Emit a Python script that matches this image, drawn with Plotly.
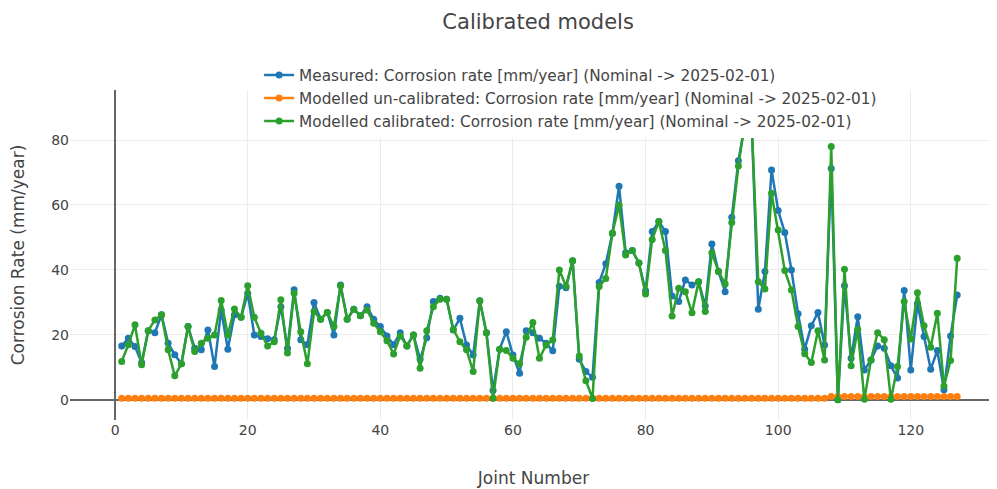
import plotly.graph_objects as go

joints = list(range(1, 128))

measured = [16.6, 19.0, 16.4, 11.5, 21.3, 20.7, 26.2, 17.4, 13.9, 11.1,
            22.6, 15.9, 15.4, 21.5, 10.3, 27.7, 15.6, 26.2, 25.4, 32.8,
            20.0, 19.5, 18.8, 18.5, 28.7, 15.9, 33.9, 18.5, 17.0, 30.0,
            24.8, 26.9, 20.0, 35.4, 24.8, 27.9, 25.9, 28.7, 24.8, 22.6,
            19.7, 17.0, 20.7, 16.6, 20.0, 12.5, 19.1, 30.3, 31.3, 31.0,
            21.5, 25.1, 16.9, 13.8, 30.5, 20.7, 2.9, 15.6, 21.0, 13.8,
            8.2, 21.3, 20.7, 19.0, 17.4, 15.1, 35.0, 34.5, 42.8, 12.5,
            8.7, 7.0, 36.1, 41.9, 51.3, 65.8, 45.3, 46.0, 42.1, 33.6,
            51.8, 54.9, 51.8, 32.0, 30.3, 36.9, 35.4, 36.4, 28.9, 48.0,
            39.5, 33.3, 56.2, 73.6, 85.0, 86.0, 27.9, 39.5, 70.8, 58.3,
            51.5, 40.0, 26.5, 15.6, 22.8, 26.9, 16.9, 71.2, 0.0, 35.1,
            12.8, 25.6, 9.2, 12.3, 16.6, 15.9, 10.5, 6.7, 33.7, 9.2,
            29.7, 19.5, 9.4, 15.2, 3.1, 19.7, 32.3]

uncalibrated = [0.5] * 107 + [1.0] * 20

calibrated = [11.8, 17.0, 23.1, 10.8, 21.3, 24.6, 26.2, 15.4, 7.4, 11.1,
              22.6, 14.9, 17.4, 19.0, 20.0, 30.6, 20.0, 28.0, 25.4, 35.1,
              25.4, 20.5, 16.6, 17.9, 30.8, 14.4, 32.8, 21.0, 11.1, 27.2,
              24.8, 26.9, 22.6, 35.1, 24.8, 27.9, 25.9, 27.7, 23.6, 21.0,
              18.2, 14.1, 19.7, 16.6, 20.0, 9.7, 21.3, 28.7, 31.0, 31.0,
              21.7, 17.9, 15.4, 8.7, 30.5, 20.7, 0.5, 15.6, 15.2, 12.8,
              11.1, 19.3, 23.8, 12.8, 16.9, 18.4, 40.0, 35.0, 42.8, 13.5,
              5.9, 0.4, 34.9, 37.4, 51.3, 60.0, 44.6, 46.0, 42.1, 32.6,
              49.4, 54.9, 46.0, 25.8, 34.4, 33.3, 26.8, 36.4, 27.2, 45.3,
              39.5, 35.7, 54.6, 72.0, 86.0, 85.0, 36.4, 34.1, 63.6, 52.3,
              39.8, 33.8, 22.6, 14.2, 11.5, 21.3, 12.3, 78.0, 0.0, 40.2,
              10.5, 21.7, 0.2, 12.3, 20.7, 18.5, 0.2, 10.3, 30.3, 18.7,
              33.0, 22.8, 16.2, 26.7, 4.3, 12.1, 43.6]

names = ["Measured: Corrosion rate [mm/year] (Nominal -> 2025-02-01)",
         "Modelled un-calibrated: Corrosion rate [mm/year] (Nominal -> 2025-02-01)",
         "Modelled calibrated: Corrosion rate [mm/year] (Nominal -> 2025-02-01)"]
colors = ["#1f77b4", "#ff7f0e", "#2ca02c"]

FONT = "DejaVu Sans, Verdana, sans-serif"

# figure sits 8 px in from the page corner (default body margin)
W, H = 989, 481

fig = go.Figure()
for name, vals, col in zip(names, [measured, uncalibrated, calibrated], colors):
    fig.add_trace(go.Scatter(x=joints, y=vals, mode="lines+markers", name=name,
                             line=dict(color=col, width=2.5),
                             marker=dict(color=col, size=7)))

fig.update_layout(
    width=W, height=H,
    template="plotly_white",
    paper_bgcolor="white", plot_bgcolor="white",
    font=dict(family=FONT, size=14, color="#444"),
    margin=dict(l=62, r=0, t=82, b=69, autoexpand=False),
    title=dict(text="Calibrated models", x=0.505, xref="paper", xanchor="center",
               y=1 - 14 / H, yref="container", yanchor="middle",
               font=dict(size=21, color="#444")),
    legend=dict(x=0.204, xanchor="left", y=1.095, yanchor="top",
                bgcolor="white", font=dict(size=15.3, color="#444")),
    showlegend=True,
)
fig.update_xaxes(range=[-6.8, 133], automargin=False,
                 title=dict(text="Joint Number", font=dict(size=17), standoff=35),
                 tickvals=[0, 20, 40, 60, 80, 100, 120],
                 showgrid=True, gridcolor="#ececec", zeroline=True,
                 zerolinecolor="#666", zerolinewidth=2, showline=False)
fig.update_yaxes(range=[-6.2, 95.4], automargin=False,
                 title=dict(text="Corrosion Rate (mm/year)", font=dict(size=17), standoff=22),
                 tickvals=[0, 20, 40, 60, 80],
                 showgrid=True, gridcolor="#ececec", zeroline=True,
                 zerolinecolor="#666", zerolinewidth=2, showline=False)

fig.write_html("out.html")
